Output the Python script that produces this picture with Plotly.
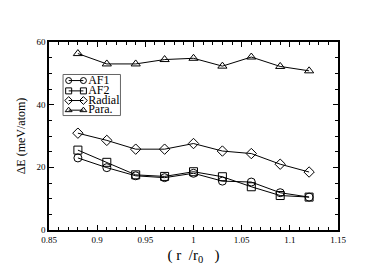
import plotly.graph_objects as go

x = [0.88, 0.91, 0.94, 0.97, 1.00, 1.03, 1.06, 1.09, 1.12]
af1 = [23.0, 19.9, 17.3, 16.7, 18.1, 15.6, 15.3, 11.9, 10.5]
af2 = [25.5, 21.6, 17.6, 17.1, 18.6, 17.0, 13.8, 11.0, 10.5]
radial = [30.9, 28.6, 25.8, 25.8, 27.6, 25.2, 24.4, 21.0, 18.5]
para = [56.3, 53.0, 53.0, 54.4, 54.8, 52.3, 55.2, 52.2, 50.8]
names = ["AF1", "AF2", "Radial", "Para."]
symbols = ["circle-open", "square-open", "diamond-open", "triangle-up-open"]

font = "Liberation Serif"
# page body has an 8px margin; plot area in screen pixels: x 44..338, y 42..237
PX0, PX1, PY0, PY1 = 44, 338, 42, 237

fig = go.Figure()
for name, ys, sym in zip(names, [af1, af2, radial, para], symbols):
    fig.add_trace(go.Scatter(
        x=x, y=ys, name=name, mode="lines+markers", showlegend=False,
        line=dict(color="black", width=1),
        marker=dict(symbol=sym, size=8, color="black", line=dict(width=1, color="black")),
    ))

# compact xmgrace-style legend drawn on an overlay axis measured in screen pixels
leg_rows = [82, 92.7, 102.7, 112.7]
for name, sym, ry in zip(names, symbols, leg_rows):
    fig.add_trace(go.Scatter(
        x=[64, 79], y=[ry, ry], mode="lines+markers+text", showlegend=False,
        xaxis="x2", yaxis="y2", hoverinfo="skip",
        text=["", name], textposition="middle right",
        textfont=dict(size=12, family=font, color="black"),
        line=dict(color="black", width=1),
        marker=dict(symbol=sym, size=6, color="black", line=dict(width=1, color="black")),
    ))
fig.add_shape(type="rect", xref="x2", yref="y2", x0=58.3, x1=116.7, y0=75.7, y1=118.3,
              line=dict(color="#666", width=1), fillcolor="white", layer="below")

nb = "\u00a0"
xtitle = "(" + nb + "r" + nb * 2 + "/" + "r<sub>0</sub>" + nb * 3 + ")"

fig.update_layout(
    width=374, height=265,
    margin=dict(l=PX0 - 8, r=382 - PX1, t=PY0 - 8, b=273 - PY1),
    plot_bgcolor="white", paper_bgcolor="white",
    font=dict(family=font, color="black"),
    showlegend=False,
    xaxis=dict(range=[0.85, 1.15], dtick=0.05, tick0=0.85,
               showline=True, linecolor="black", linewidth=1.5, mirror="allticks",
               ticks="inside", ticklen=5, tickcolor="black",
               minor=dict(ticks="inside", dtick=0.01, ticklen=3, tickcolor="black"),
               showgrid=False, zeroline=False,
               tickfont=dict(size=9, family=font), tickformat="~g",
               title=dict(text=xtitle, font=dict(size=15, family=font), standoff=6)),
    yaxis=dict(range=[0, 60], dtick=20,
               showline=True, linecolor="black", linewidth=1.5, mirror="allticks",
               ticks="inside", ticklen=5, tickcolor="black",
               minor=dict(ticks="inside", dtick=5, ticklen=3, tickcolor="black"),
               showgrid=False, zeroline=False,
               tickfont=dict(size=9, family=font),
               title=dict(text="ΔE (meV/atom)", font=dict(size=12, family=font), standoff=8)),
    xaxis2=dict(overlaying="x", range=[PX0, PX1], visible=False, fixedrange=True),
    yaxis2=dict(overlaying="y", range=[PY1, PY0], visible=False, fixedrange=True),
)
fig.write_html("out.html")
